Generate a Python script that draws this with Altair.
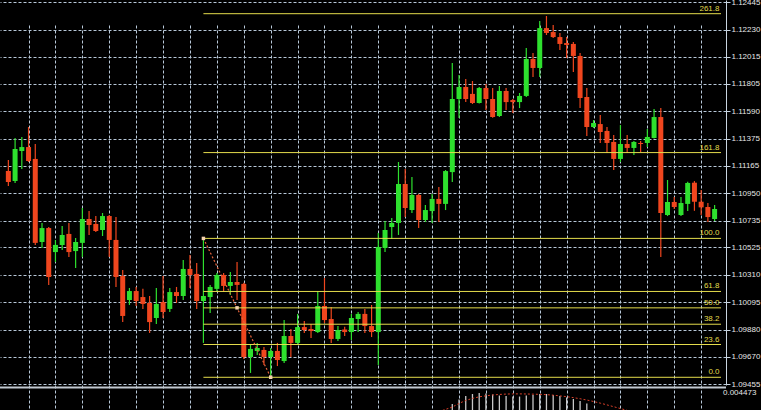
import altair as alt
import pandas as pd

# ---- hourly bars (index, open, high, low, close) ----
bar_open = [
    1.11122, 1.11044, 1.11279, 1.11310, 1.11217, 1.10567, 1.10676, 1.10488, 1.10544, 1.10630,
    1.10496, 1.10560, 1.10747, 1.10708, 1.10661, 1.10770, 1.10583, 1.10301, 1.10113, 1.10183,
    1.10136, 1.10090, 1.09972, 1.10097, 1.10043, 1.10175, 1.10144, 1.10356, 1.10317, 1.10105,
    1.10136, 1.10200, 1.10309, 1.10223, 1.10254, 1.10239, 1.09667, 1.09714, 1.09722, 1.09667,
    1.09714, 1.09635, 1.09831, 1.09777, 1.09901, 1.09886, 1.09862, 1.10066, 1.09964, 1.09808,
    1.09882, 1.09862, 1.09964, 1.10004, 1.09909, 1.09862, 1.10520, 1.10684, 1.10716, 1.11021,
    1.10817, 1.10935, 1.10739, 1.10809, 1.10904, 1.10865, 1.11114, 1.11686, 1.11780, 1.11726,
    1.11655, 1.11772, 1.11686, 1.11553, 1.11749, 1.11678, 1.11662, 1.11710, 1.11999, 1.11929,
    1.12241, 1.12210, 1.12171, 1.12124, 1.12117, 1.12023, 1.11702, 1.11467, 1.11490, 1.11436,
    1.11350, 1.11217, 1.11334, 1.11303, 1.11342, 1.11342, 1.11381, 1.11545, 1.10778, 1.10880,
    1.10778, 1.10865, 1.11031, 1.10882, 1.10841, 1.10747,
]
bar_high = [
    1.11209, 1.11380, 1.11388, 1.11467, 1.11334, 1.10716, 1.10684, 1.10583, 1.10692, 1.10716,
    1.10598, 1.10833, 1.10809, 1.10770, 1.10794, 1.10778, 1.10762, 1.10348, 1.10207, 1.10215,
    1.10200, 1.10144, 1.10207, 1.10301, 1.10207, 1.10215, 1.10426, 1.10465, 1.10403, 1.10595,
    1.10231, 1.10325, 1.10325, 1.10332, 1.10410, 1.10247, 1.09761, 1.09777, 1.09745, 1.09737,
    1.09777, 1.09956, 1.09886, 1.10004, 1.09948, 1.09925, 1.10183, 1.10285, 1.10058, 1.09909,
    1.09904, 1.10004, 1.10019, 1.10043, 1.10074, 1.10638, 1.10731, 1.10754, 1.11193, 1.11139,
    1.11075, 1.10943, 1.10857, 1.10943, 1.10997, 1.11130, 1.11968, 1.11874, 1.11843, 1.11827,
    1.11780, 1.11804, 1.11772, 1.11788, 1.11772, 1.11686, 1.11733, 1.12086, 1.12047, 1.12297,
    1.12336, 1.12265, 1.12203, 1.12171, 1.12132, 1.12047, 1.11772, 1.11522, 1.11561, 1.11467,
    1.11404, 1.11482, 1.11404, 1.11357, 1.11357, 1.11451, 1.11608, 1.11615, 1.11052, 1.10919,
    1.10919, 1.11039, 1.11044, 1.10974, 1.10872, 1.10857,
]
bar_low = [
    1.11005, 1.11029, 1.11139, 1.11193, 1.10544, 1.10520, 1.10231, 1.10410, 1.10504, 1.10449,
    1.10363, 1.10449, 1.10622, 1.10645, 1.10614, 1.10449, 1.10215, 1.09940, 1.10074, 1.10066,
    1.10043, 1.09855, 1.09925, 1.09972, 1.10019, 1.10090, 1.10113, 1.10207, 1.10043, 1.09777,
    1.10012, 1.10175, 1.10175, 1.10152, 1.10113, 1.09652, 1.09542, 1.09683, 1.09604, 1.09508,
    1.09596, 1.09620, 1.09667, 1.09769, 1.09855, 1.09815, 1.09855, 1.09933, 1.09777, 1.09792,
    1.09831, 1.09800, 1.09862, 1.09855, 1.09823, 1.09604, 1.10488, 1.10591, 1.10622, 1.10762,
    1.10794, 1.10676, 1.10723, 1.10716, 1.10723, 1.10817, 1.11036, 1.11537, 1.11662, 1.11647,
    1.11650, 1.11600, 1.11540, 1.11545, 1.11600, 1.11577, 1.11615, 1.11702, 1.11858, 1.11858,
    1.12187, 1.12163, 1.12070, 1.12007, 1.11897, 1.11615, 1.11397, 1.11459, 1.11342, 1.11264,
    1.11130, 1.11193, 1.11264, 1.11248, 1.11272, 1.11310, 1.11376, 1.10449, 1.10770, 1.10825,
    1.10770, 1.10809, 1.10811, 1.10778, 1.10723, 1.10731,
]
bar_close = [
    1.11036, 1.11295, 1.11310, 1.11201, 1.10560, 1.10676, 1.10293, 1.10544, 1.10622, 1.10488,
    1.10567, 1.10747, 1.10700, 1.10653, 1.10770, 1.10583, 1.10293, 1.09988, 1.10183, 1.10105,
    1.10082, 1.09940, 1.10082, 1.10019, 1.10175, 1.10144, 1.10356, 1.10309, 1.10105, 1.10144,
    1.10215, 1.10309, 1.10223, 1.10254, 1.10231, 1.09667, 1.09730, 1.09737, 1.09667, 1.09714,
    1.09643, 1.09831, 1.09777, 1.09901, 1.09878, 1.09870, 1.10066, 1.09956, 1.09808, 1.09878,
    1.09862, 1.09972, 1.10004, 1.09909, 1.09862, 1.10528, 1.10661, 1.10716, 1.11021, 1.10833,
    1.10935, 1.10739, 1.10817, 1.10904, 1.10865, 1.11122, 1.11686, 1.11780, 1.11686, 1.11655,
    1.11772, 1.11686, 1.11545, 1.11749, 1.11662, 1.11662, 1.11710, 1.11999, 1.11929, 1.12241,
    1.12203, 1.12171, 1.12117, 1.12109, 1.12023, 1.11694, 1.11467, 1.11498, 1.11428, 1.11342,
    1.11217, 1.11334, 1.11303, 1.11350, 1.11334, 1.11389, 1.11545, 1.10794, 1.10880, 1.10841,
    1.10872, 1.11029, 1.10882, 1.10838, 1.10762, 1.10825,
]

# right-hand price scale labels
price_ticks = [1.12445, 1.12230, 1.12015, 1.11805, 1.11590, 1.11375, 1.11165, 1.10950,
               1.10735, 1.10525, 1.10310, 1.10095, 1.09880, 1.09670, 1.09455]

# Fibonacci retracement drawn from the swing high bar to the swing low bar
fib_ratios = [0.0, 23.6, 38.2, 50.0, 61.8, 100.0, 161.8, 261.8]
fib_from_bar = 29
fib_to_bar = 39

# MACD sub-window (histogram and dotted signal line)
macd_bars = list(range(66, 87))
macd_hist = [0.00284, 0.00333, 0.00371, 0.00393, 0.00404, 0.00398, 0.00387, 0.00376,
             0.00371, 0.00365, 0.00365, 0.00376, 0.00382, 0.00393, 0.00393, 0.00382,
             0.00371, 0.00355, 0.00338, 0.00316, 0.00289]
signal_bars = list(range(64, 93))
signal_vals = [0.00200, 0.00225, 0.00250, 0.00290, 0.00322, 0.00345, 0.00362, 0.00373,
               0.00382, 0.00388, 0.00392, 0.00394, 0.00394, 0.00393, 0.00391, 0.00389,
               0.00386, 0.00380, 0.00372, 0.00364, 0.00353, 0.00341, 0.00327, 0.00311,
               0.00293, 0.00274, 0.00254, 0.00234, 0.00214]
macd_max = 0.004473

# ---- styling ----
BULL = "#2ee02e"
BEAR = "#f0461e"
GRID = "#b8c8d8"
AXIS = "#c8d4e0"
FIB = "#e4dc4c"
X_MIN, X_MAX = -0.5, 105.95
PLOT_W, PLOT_H = 726, 410
MAIN_BOTTOM = 385

# ---- tables ----
bars = pd.DataFrame({
    "i": range(len(bar_open)), "o": bar_open, "h": bar_high, "l": bar_low, "c": bar_close,
})
bars["dir"] = ["up" if c >= o else "down" for o, c in zip(bar_open, bar_close)]

swing_high = bar_high[fib_from_bar]
swing_low = bar_low[fib_to_bar]
fib = pd.DataFrame({"ratio": fib_ratios})
fib["price"] = swing_low + fib["ratio"] / 100.0 * (swing_high - swing_low)
fib["x0"] = fib_from_bar
fib["x1"] = X_MAX
fib["label"] = [f"{r:.1f}" for r in fib_ratios]

trend = pd.DataFrame({"i": [fib_from_bar, fib_to_bar], "p": [swing_high, swing_low]})
anchors = pd.DataFrame({
    "i": [fib_from_bar, (fib_from_bar + fib_to_bar) / 2, fib_to_bar],
    "p": [swing_high, (swing_high + swing_low) / 2, swing_low],
})

hist = pd.DataFrame({"i": macd_bars, "v": macd_hist})
signal = pd.DataFrame({"i": signal_bars, "s": signal_vals})
top_label = pd.DataFrame({"x": [X_MAX], "v": [macd_max], "t": [f"{macd_max:.6f}"]})

# ---- scales / axes ----
x_scale = alt.Scale(domain=[X_MIN, X_MAX], nice=False, zero=False)
x_axis = alt.Axis(values=list(range(3, 106, 4)), grid=True, gridDash=[3, 2],
                  gridColor=GRID, gridOpacity=1, labels=False, ticks=False,
                  domain=False, title=None)


def xq(field):
    return alt.X(f"{field}:Q", scale=x_scale, axis=x_axis)


price_scale = alt.Scale(domain=[1.094476, 1.12461], range=[MAIN_BOTTOM, 0],
                        nice=False, zero=False)
price_axis = alt.Axis(orient="right", values=price_ticks, format=".5f", grid=True,
                      gridDash=[3, 2], gridColor=GRID, gridOpacity=1, tickSize=4,
                      tickColor=AXIS, domainColor=AXIS, labelColor="#e6e6e6",
                      labelFont="Liberation Sans", labelFontSize=8, labelPadding=1,
                      title=None, labelOverlap=False, labelBound=False, labelFlush=False)


def py(field):
    return alt.Y(f"{field}:Q", scale=price_scale, axis=price_axis)


dir_color = alt.Color("dir:N", scale=alt.Scale(domain=["up", "down"], range=[BULL, BEAR]),
                      legend=None)

ind_scale = alt.Scale(domain=[0, macd_max], range=[430, 389], nice=False, zero=False)

# ---- main price window ----
wicks = alt.Chart(bars).mark_rule(strokeWidth=1.2).encode(
    x=xq("i"), y=py("l"), y2="h:Q", color=dir_color)
bodies = alt.Chart(bars).mark_bar(size=5).encode(
    x=xq("i"), y=py("o"), y2="c:Q", color=dir_color)
fib_lines = alt.Chart(fib).mark_rule(color=FIB, strokeWidth=1).encode(
    x=xq("x0"), x2="x1:Q", y=py("price"))
fib_text = alt.Chart(fib).mark_text(align="right", baseline="bottom", dx=-1.5, dy=-1,
                                    font="Liberation Sans", fontSize=8, color=FIB).encode(
    x=xq("x1"), y=py("price"), text="label:N")
trend_line = alt.Chart(trend).mark_line(color="#e8643c", strokeDash=[2, 2],
                                        strokeWidth=1.2).encode(x=xq("i"), y=py("p"))
anchor_pts = alt.Chart(anchors).mark_square(size=12, color="#f4d2ae", opacity=1).encode(
    x=xq("i"), y=py("p"))

main = alt.layer(wicks, bodies, fib_lines, fib_text, trend_line, anchor_pts)

# ---- MACD window ----
hist_bars = alt.Chart(hist).mark_rule(strokeWidth=1.3, color="#c8c8c8").encode(
    x=xq("i"), y=alt.Y("v:Q", scale=ind_scale, axis=None), y2=alt.datum(0))
signal_line = alt.Chart(signal).mark_line(color="#d8402a", strokeDash=[2, 2],
                                          strokeWidth=1).encode(
    x=xq("i"), y=alt.Y("s:Q", scale=ind_scale, axis=None))
max_label = alt.Chart(top_label).mark_text(align="left", baseline="top", dx=2, dy=0,
                                           font="Liberation Sans", fontSize=8,
                                           color="#e6e6e6").encode(
    x=xq("x"), y=alt.Y("v:Q", scale=ind_scale, axis=None), text="t:N")
separator = alt.Chart(top_label).mark_rule(color="#c0c8d0", strokeWidth=2).encode(
    x=alt.value(0), x2=alt.value(PLOT_W), y=alt.value(387.5))

sub = alt.layer(hist_bars, signal_line, max_label, separator)

chart = (
    alt.layer(main, sub)
    .resolve_scale(y="independent")
    .properties(width=PLOT_W, height=PLOT_H,
                autosize=alt.AutoSizeParams(type="none"),
                padding={"left": 0, "top": 0, "right": 35, "bottom": 0},
                background="#000000")
    .configure_view(stroke=None)
)

chart.save("out.html", embed_options={"renderer": "svg", "actions": False})
